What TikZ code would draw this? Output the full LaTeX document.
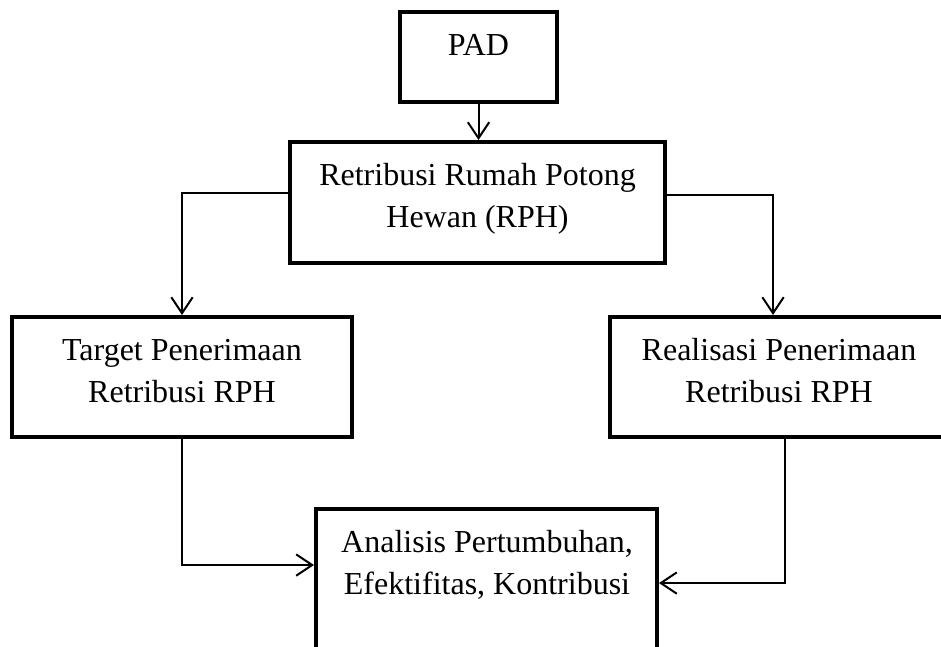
\documentclass[tikz,border=0pt]{standalone}
\usepackage{fontspec}
\setmainfont{Liberation Serif}
\usetikzlibrary{arrows.meta}
\tikzset{
  box/.style={draw, line width=3pt, rectangle, inner sep=0pt, fill=white},
  txt/.style={align=center, font=\fontsize{24}{31.5}\selectfont, inner sep=0pt},
  arr/.style={line width=1.5pt, -{Straight Barb[length=12pt,width=16pt,line width=1.5pt]}}
}
\begin{document}
\begin{tikzpicture}[x=0.75pt,y=-0.75pt]
\useasboundingbox (0,0) rectangle (941,646);
\clip (0,0) rectangle (941,646);
\node[box, minimum width=117.75pt, minimum height=67.5pt] (pad) at (478.5,57) {};
\node[box, minimum width=281.25pt, minimum height=90.75pt] (ret) at (477.5,202.5) {};
\node[box, minimum width=255pt, minimum height=90pt] (tgt) at (182,377) {};
\node[box, minimum width=255pt, minimum height=90pt] (rea) at (780,377) {};
\node[box, minimum width=255.75pt, minimum height=113.25pt] (ana) at (486.5,584.5) {};

\node[txt] (padt) at (478.5,45) {PAD};
\node[txt] (rett) at (477.5,199) {Retribusi Rumah Potong\\Hewan (RPH)};
\node[txt] (tgtt) at (182,371) {Target Penerimaan\\Retribusi RPH};
\node[txt] (reat) at (779,371) {Realisasi Penerimaan\\Retribusi RPH};
\node[txt] (anat) at (487,565) {Analisis Pertumbuhan,\\Efektifitas, Kontribusi};

\draw[arr] (pad.south) -- (pad.south |- ret.north);
\draw[arr] ([yshift=7.1pt]ret.west) -| (tgt.north);
\draw[arr] ([yshift=5.6pt]ret.east) -| ([xshift=-5.25pt]rea.north);
\draw[arr] (tgt.south) |- ([yshift=14.6pt]ana.west);
\draw[arr] ([xshift=3.75pt]rea.south) |- ([yshift=1.1pt]ana.east);
\end{tikzpicture}
\end{document}
